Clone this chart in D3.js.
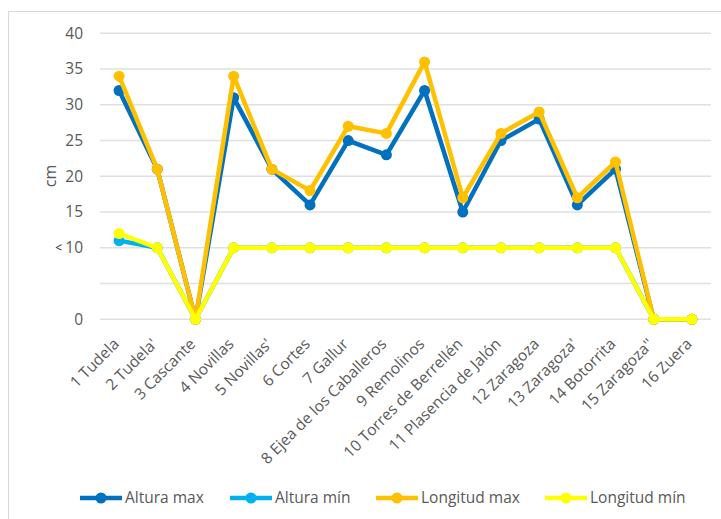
<!DOCTYPE html>
<html><head><meta charset="utf-8">
<script src="https://cdn.jsdelivr.net/npm/d3@7"></script>
<style>body{margin:0;background:#fff}svg{display:block}text{font-family:"Open Sans",sans-serif}</style>
</head><body><svg id="c" width="721" height="519"></svg>
<script>
const categories = ["1 Tudela","2 Tudela'","3 Cascante","4 Novillas","5 Novillas'","6 Cortes","7 Gallur","8 Ejea de los Caballeros","9 Remolinos","10 Torres de Berrellén","11 Plasencia de Jalón","12 Zaragoza","13 Zaragoza'","14 Botorrita","15 Zaragoza''","16 Zuera"];
const alturaMax   = [32,21,0,31,21,16,25,23,32,15,25,28,16,21,0,0];
const alturaMin   = [11,10,0,10,10,10,10,10,10,10,10,10,10,10,0,0];
const longitudMax = [34,21,0,34,21,18,27,26,36,17,26,29,17,22,0,0];
const longitudMin = [12,10,0,10,10,10,10,10,10,10,10,10,10,10,0,0];
const yTicks = [0,5,10,15,20,25,30,35,40];
const yTickLabels = ["0","","10","15","20","25","30","35","40"];
const seriesNames = ["Altura max","Altura mín","Longitud max","Longitud mín"];
const colors = ["#0070C0","#00B0F0","#FFC000","#FFFF00"];

const svg = d3.select("#c");
svg.append("rect").attr("x",8.5).attr("y",11.5).attr("width",730).attr("height",520)
  .attr("fill","none").attr("stroke","#d9d9d9");

const x = d3.scaleBand().domain(categories).range([100,711]);
const y = d3.scaleLinear().domain([0,40]).range([319.3,33.3]);

// gridlines
svg.append("g").selectAll("line").data(yTicks).join("line")
  .attr("x1",100).attr("x2",711).attr("y1",d=>y(d)).attr("y2",d=>y(d))
  .attr("stroke","#e0e0e0").attr("stroke-width",1.5);

// y labels
svg.append("g").selectAll("text").data(yTicks).join("text")
  .attr("x",83).attr("y",d=>y(d)).attr("dy","0.35em").attr("text-anchor","end")
  .attr("font-size",15.5).attr("fill","#595959").text((d,i)=>yTickLabels[i]);
svg.append("text").attr("x",62).attr("y",y(10)).attr("dy","0.35em").attr("text-anchor","end")
  .attr("font-size",12).attr("fill","#222").text("<");
svg.append("text").attr("transform","translate(50,176) rotate(-90)").attr("text-anchor","middle")
  .attr("dy","0.35em").attr("font-size",16).attr("fill","#595959").text("cm");

// x labels
svg.append("g").selectAll("text").data(categories).join("text")
  .attr("transform",d=>`translate(${x(d)+x.bandwidth()/2+1},345) rotate(-45)`)
  .attr("text-anchor","end").attr("font-size",15.5).attr("fill","#595959").text(d=>d);

const series = [alturaMax,alturaMin,longitudMax,longitudMin];
const line = d3.line().x((d,i)=>x(categories[i])+x.bandwidth()/2).y(d=>y(d));
series.forEach((s,k)=>{
  const g = svg.append("g");
  g.append("path").datum(s).attr("d",line).attr("fill","none")
    .attr("stroke",colors[k]).attr("stroke-width",4.5).attr("stroke-linejoin","round");
  g.selectAll("circle").data(s).join("circle")
    .attr("cx",(d,i)=>x(categories[i])+x.bandwidth()/2).attr("cy",d=>y(d)).attr("r",5.5)
    .attr("fill",colors[k]);
});

// legend
const lx = [80,230,376,545];
const lg = svg.append("g");
seriesNames.forEach((n,k)=>{
  lg.append("line").attr("x1",lx[k]).attr("x2",lx[k]+42).attr("y1",498).attr("y2",498)
    .attr("stroke",colors[k]).attr("stroke-width",4.5);
  lg.append("circle").attr("cx",lx[k]+21).attr("cy",498).attr("r",5.5).attr("fill",colors[k]);
  lg.append("text").attr("x",lx[k]+45).attr("y",498).attr("dy","0.35em")
    .attr("font-size",15.5).attr("fill","#595959").text(n);
});
</script></body></html>
